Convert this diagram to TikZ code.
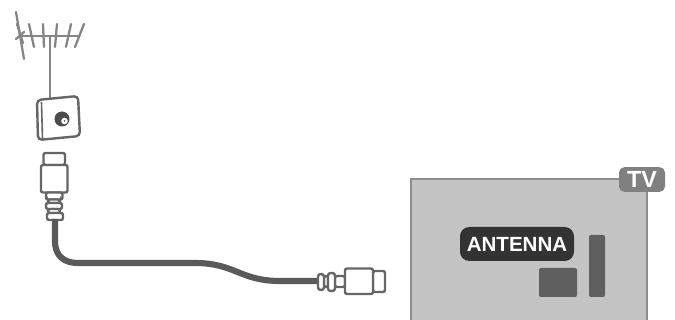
\documentclass[tikz,border=0pt]{standalone}
\usepackage{fontspec}
\setmainfont{Liberation Sans}
\definecolor{linegray}{HTML}{666666}
\definecolor{cablegray}{HTML}{5A5A5A}
\definecolor{tvfill}{HTML}{C4C4C4}
\definecolor{tvedge}{HTML}{8E8E8E}
\definecolor{tagfill}{HTML}{808080}
\definecolor{labelfill}{HTML}{333333}
\definecolor{portfill}{HTML}{5F5F5F}
\tikzset{
  x=0.75pt,y=-0.75pt,
  ant/.style={draw=linegray!80,line width=1.7pt,line cap=round},
  plugpart/.style={draw=linegray,line width=1.8pt,rounded corners=1.5pt,fill=white},
  cable/.style={draw=cablegray,line width=4.6pt},
  port/.style={fill=portfill,rounded corners=1.5pt},
  pill/.style={text=white,inner sep=0pt,anchor=center}
}
\begin{document}
\begin{tikzpicture}
\useasboundingbox (0,0) rectangle (675,320);
% antenna
\draw[ant] (20,36) -- (79,36);
\draw[ant] (16,12) -- (24,59);
\draw[ant] (17,24) -- (23,43);
\draw[ant] (16,39) -- (24,32);
\draw[ant] (29,24) -- (34,47);
\draw[ant] (43,24) -- (44,47);
\draw[ant] (57,24) -- (55,47);
\draw[ant] (71,24) -- (66,47);
\draw[ant] (84,24) -- (75,47);
\coordinate (mastTop) at (50,36);
\coordinate (mastBottom) at (50,98);
\draw[draw=linegray!80,line width=1.9pt] (mastTop) -- (mastBottom);
% wall plate
\draw[plugpart,rounded corners=3pt] (37,100) -- (78,96) -- (80,136) -- (38,140) -- cycle;
\draw[draw=linegray,line width=1.2pt] (41.5,102) -- (42.5,139);
\fill[linegray!75!black] (62,119) circle (7.5);
\fill[white] (64.5,121) circle (3.3);
\fill[linegray] (64.5,121) circle (1);
% vertical plug
\coordinate (cableA) at (55,219);
\draw[plugpart] (43.5,153) rectangle (65,165);
\draw[plugpart] (41,165) rectangle (67.5,192.5);
\draw[plugpart] (46,192.5) rectangle (62.5,199.5);
\draw[plugpart] (48,199.5) rectangle (60,203);
\draw[plugpart] (46,203) rectangle (62,209);
\draw[plugpart] (48,209) rectangle (60,213);
\draw[plugpart] (47,213) rectangle (63,220);
% cable
\coordinate (cableB) at (318,281);
\draw[cable] (cableA) -- (55,241) .. controls (55,256) and (64,263) .. (78,263)
  -- (195,263) .. controls (235,263) and (240,281) .. (280,281) -- (cableB);
% horizontal plug
\draw[plugpart] (335,276) rectangle (345,287);
\draw[plugpart] (324,276) rectangle (328,287);
\draw[plugpart,rounded corners=2pt] (318,274) rectangle (324,290);
\draw[plugpart,rounded corners=2pt] (328,273) rectangle (335,291);
\draw[plugpart] (373,271) rectangle (385,292);
\draw[plugpart] (345,268.5) rectangle (373,294);
% TV
\path[fill=tvfill] (411,320) -- (411,179) -- (647,179) -- (647,320) -- cycle;
\draw[tvedge,line width=1.2pt] (411,320) -- (411,179) -- (647,179) -- (647,320);
\node[pill,fill=tagfill,minimum width=34.5pt,minimum height=18.5pt,rounded corners=4pt,font=\bfseries\fontsize{17.5}{18}\selectfont] (tv) at (642,179.5) {TV};
\node[pill,fill=labelfill,minimum width=85.5pt,minimum height=25.5pt,rounded corners=7pt,font=\bfseries\fontsize{15.4}{16}\selectfont] (antenna) at (517,244) {ANTENNA};
\fill[port] (539,268) rectangle (577,297);
\fill[port] (589,235) rectangle (605,297);
\end{tikzpicture}
\end{document}
